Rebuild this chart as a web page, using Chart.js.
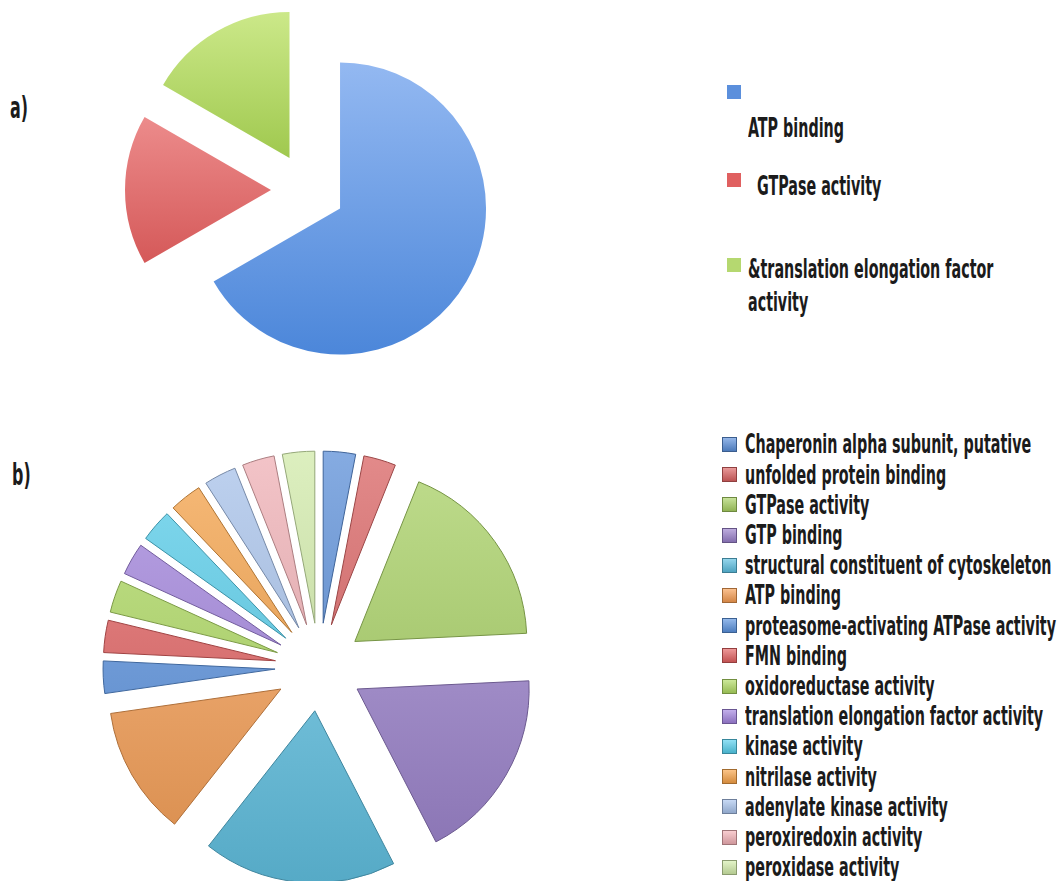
<!DOCTYPE html>
<html><head><meta charset="utf-8">
<script src="https://cdn.jsdelivr.net/npm/chart.js@4.4.1/dist/chart.umd.min.js"></script>
<style>
html,body{margin:0;padding:0;background:#fff;width:1063px;height:881px;overflow:hidden;}
body{position:relative;font-family:'Liberation Sans Narrow','DejaVu Sans Condensed','Roboto',sans-serif;color:#1b1b1b;}
#cA{position:absolute;left:100px;top:0;}
#cB{position:absolute;left:99px;top:447px;}
.txt{position:absolute;font-size:26px;line-height:26px;font-weight:bold;white-space:nowrap;transform-origin:0 0;}
.wrap{white-space:normal;line-height:33px;}
.sq{position:absolute;box-sizing:border-box;}
.tag{position:absolute;font-size:31px;line-height:31px;font-weight:bold;transform-origin:0 0;}
</style></head><body>
<canvas id="cA" width="416" height="380"></canvas>
<canvas id="cB" width="440" height="440"></canvas>
<div id="legend"></div>
<script>
// ---- data ----
const catsA = ['ATP binding', 'GTPase activity', '&translation elongation factor activity'];
const valsA = [4, 1, 1];
const catsB = ['Chaperonin alpha subunit, putative', 'unfolded protein binding', 'GTPase activity', 'GTP binding',
  'structural constituent of cytoskeleton', 'ATP binding', 'proteasome-activating ATPase activity', 'FMN binding',
  'oxidoreductase activity', 'translation elongation factor activity', 'kinase activity', 'nitrilase activity',
  'adenylate kinase activity', 'peroxiredoxin activity', 'peroxidase activity'];
const valsB = [1, 1, 6, 6, 6, 4, 1, 1, 1, 1, 1, 1, 1, 1, 1];
const panelTags = ['a)', 'b)'];

// ---- styles ----
const gradA = [['#9ec0f5', '#417fd6'], ['#ffb4b4', '#c23030'], ['#d9f29b', '#669f02']];
const legendA = ['#5b8fdc', '#e06060', '#b5d870'];
const baseB = ['#5a8fdb', '#dc6262', '#a9d363', '#9a80cc', '#5cc0e2', '#f89e52', '#5a93e0', '#e46060',
  '#b0dc62', '#a384e0', '#56d0ee', '#f9a448', '#a9c4ee', '#f4b2b7', '#d4eeab'];

function hex2rgb(h){h=h.replace('#','');return [0,2,4].map(i=>parseInt(h.substr(i,2),16));}
function mix(h, w, t){const a=hex2rgb(h), b=hex2rgb(w);return 'rgb('+a.map((v,i)=>Math.round(v+(b[i]-v)*t)).join(',')+')';}

function vGrad(chart, c1, c2){
  const a = chart.chartArea;
  if(!a) return c2;
  const g = chart.ctx.createLinearGradient(0, a.top, 0, a.bottom);
  g.addColorStop(0, c1); g.addColorStop(1, c2);
  return g;
}

Chart.defaults.animation = false;

// exploded slices: shift each arc outward along its mid-angle without changing its radius
Chart.defaults.elements.arc.explode = 0;
const Arc = Chart.registry.getElement('arc');
const origDraw = Arc.prototype.draw;
Arc.prototype.draw = function(ctx){
  const off = (this.options && this.options.explode) || 0;
  const half = (this.startAngle + this.endAngle) / 2;
  ctx.save();
  ctx.translate(Math.cos(half) * off, Math.sin(half) * off);
  origDraw.call(this, ctx);
  ctx.restore();
};

new Chart(document.getElementById('cA'), {
  type: 'pie',
  data: { labels: catsA, datasets: [{
    data: valsA,
    backgroundColor: c => { const i = c.dataIndex ?? 0; return vGrad(c.chart, gradA[i][0], gradA[i][1]); },
    borderWidth: 0,
    explode: 37,
    radius: 146
  }]},
  options: { responsive: false, events: [], layout: {padding: 0},
    plugins: { legend: {display: false}, tooltip: {enabled: false} } }
});

new Chart(document.getElementById('cB'), {
  type: 'pie',
  data: { labels: catsB, datasets: [{
    data: valsB,
    backgroundColor: c => { const i = c.dataIndex ?? 0; return vGrad(c.chart, mix(baseB[i], '#ffffff', 0.3), mix(baseB[i], '#000000', 0.14)); },
    borderColor: c => mix(baseB[c.dataIndex ?? 0], '#000000', 0.3),
    borderWidth: 1,
    explode: 44,
    radius: 172
  }]},
  options: { responsive: false, events: [], layout: {padding: 0},
    plugins: { legend: {display: false}, tooltip: {enabled: false} } }
});

// ---- legends (HTML text) ----
const FONT = getComputedStyle(document.body).fontFamily;
const mctx = document.createElement('canvas').getContext('2d');
mctx.font = 'bold 26px ' + FONT;
const sx = 311 / mctx.measureText('proteasome-activating ATPase activity').width;
mctx.font = 'bold 31px ' + FONT;
const sTag = 18 / mctx.measureText('a)').width;
const L = document.getElementById('legend');

function addText(str, left, capCenter, cls){
  const d = document.createElement('div');
  d.className = 'txt' + (cls ? ' ' + cls : '');
  d.textContent = str;
  d.style.left = left + 'px';
  d.style.top = (capCenter - 12.7) + 'px';
  d.style.transform = 'scaleX(' + sx + ')';
  L.appendChild(d);
  return d;
}
function addSq(x, y, s, col, grad){
  const d = document.createElement('div');
  d.className = 'sq';
  d.style.left = x + 'px'; d.style.top = y + 'px';
  d.style.width = s + 'px'; d.style.height = s + 'px';
  if(grad){
    d.style.background = 'linear-gradient(' + mix(col, '#ffffff', 0.35) + ',' + mix(col, '#000000', 0.15) + ')';
    d.style.border = '1px solid ' + mix(col, '#000000', 0.35);
  } else {
    d.style.background = col;
  }
  L.appendChild(d);
}

// panel a legend (layout as in original)
const aSq = [85, 173, 258];
const aTxt = [[748, 128], [757, 186], [748, 269]];
catsA.forEach((t, i) => {
  addSq(727, aSq[i], 14, legendA[i], false);
  const d = addText(t, aTxt[i][0], aTxt[i][1], i === 2 ? 'wrap' : '');
  if(i === 2){ d.style.width = (300 / sx) + 'px'; d.style.top = (aTxt[i][1] - 16.5) + 'px'; }
});

// panel b legend
catsB.forEach((t, i) => {
  addSq(722, 437 + 30.2 * i, 15, baseB[i], true);
  addText(t, 745, 444 + 30.2 * i);
});

// panel tags
[[10, 107], [12, 474]].forEach((p, i) => {
  const d = document.createElement('div');
  d.className = 'tag';
  d.textContent = panelTags[i];
  d.style.left = p[0] + 'px';
  d.style.top = (p[1] - 15.5) + 'px';
  d.style.transform = 'scaleX(' + sTag + ')';
  L.appendChild(d);
});
</script>
</body></html>
